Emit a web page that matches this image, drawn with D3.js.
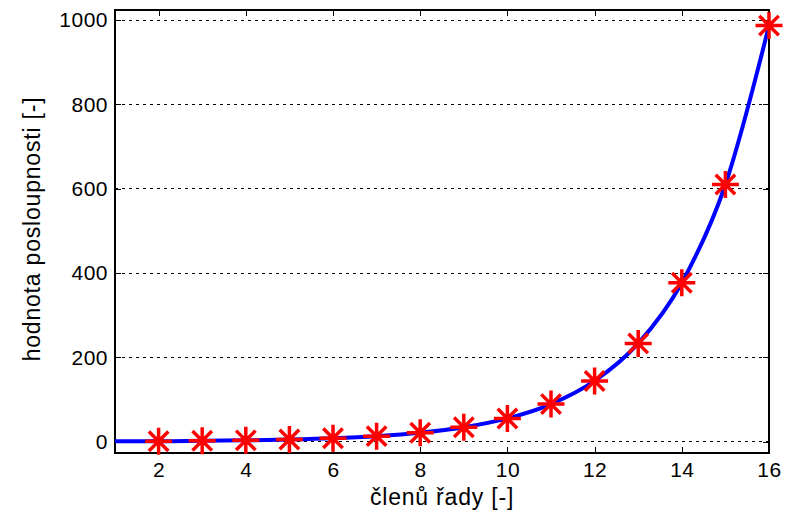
<!DOCTYPE html>
<html>
<head>
<meta charset="utf-8">
<script src="https://cdn.jsdelivr.net/npm/d3@7"></script>
<style>
  body { margin: 0; background: #fff; }
  text { font-family: "Liberation Sans", Arial, sans-serif; fill: #000; }
</style>
</head>
<body>
<svg width="787" height="518"></svg>
<script>
// clen rady (n) a hodnota posloupnosti
var terms = [1, 2, 3, 4, 5, 6, 7, 8, 9, 10, 11, 12, 13, 14, 15, 16];
var values = [1, 1, 2, 3, 5, 8, 13, 21, 34, 55, 89, 144, 233, 377, 610, 987];
var xTicks = [2, 4, 6, 8, 10, 12, 14, 16];
var yTicks = [0, 200, 400, 600, 800, 1000];

var svg = d3.select("svg"),
    margin = {top: 10, right: 18, bottom: 65, left: 115},
    width = svg.attr("width") - margin.left - margin.right,
    height = svg.attr("height") - margin.top - margin.bottom,
    g = svg.append("g").attr("transform", "translate(" + margin.left + "," + margin.top + ")");

var x = d3.scaleLinear().domain([1, 16]).range([0, width]),
    y = d3.scaleLinear().domain([-27, 1024]).range([height, 0]);

var data = terms.map(function(t, i) { return {n: t, v: values[i]}; });

// grid
g.selectAll(".grid")
  .data(yTicks)
  .enter().append("line")
    .attr("x1", 0).attr("x2", width)
    .attr("y1", function(d) { return y(d); })
    .attr("y2", function(d) { return y(d); })
    .attr("stroke", "#000")
    .attr("stroke-width", 1)
    .attr("stroke-dasharray", "3,4")
    .attr("shape-rendering", "crispEdges");

// axes - ticks inside, mirrored
function styleAxis(sel) {
  sel.select(".domain").remove();
  sel.selectAll("line").attr("stroke", "#000").attr("shape-rendering", "crispEdges");
  sel.selectAll("text").style("font-size", "21px").style("letter-spacing", "0.5px");
}

g.append("g")
    .attr("transform", "translate(0," + height + ")")
    .call(d3.axisBottom(x).tickValues(xTicks).tickSizeInner(-6).tickPadding(9))
    .call(styleAxis);

g.append("g")
    .call(d3.axisTop(x).tickValues(xTicks).tickSizeInner(-6).tickFormat(""))
    .call(styleAxis);

g.append("g")
    .call(d3.axisLeft(y).tickValues(yTicks).tickSizeInner(-6).tickPadding(7).tickFormat(d3.format("d")))
    .call(styleAxis);

g.append("g")
    .attr("transform", "translate(" + width + ",0)")
    .call(d3.axisRight(y).tickValues(yTicks).tickSizeInner(-6).tickFormat(""))
    .call(styleAxis);

g.append("rect")
    .attr("width", width).attr("height", height)
    .attr("fill", "none").attr("stroke", "#000").attr("stroke-width", 1.2)
    .attr("shape-rendering", "crispEdges");

// line
var line = d3.line()
    .curve(d3.curveMonotoneX)
    .x(function(d) { return x(d.n); })
    .y(function(d) { return y(d.v); });

g.append("path")
    .datum(data)
    .attr("d", line)
    .attr("fill", "none")
    .attr("stroke", "#0000ff")
    .attr("stroke-width", 4);

// asterisk markers
var r = 13.5, rd = r * 0.72;
var star = "M0," + (-r) + "V" + r + "M" + (-r) + ",0H" + r +
    "M" + (-rd) + "," + (-rd) + "L" + rd + "," + rd +
    "M" + (-rd) + "," + rd + "L" + rd + "," + (-rd);

g.selectAll(".marker")
  .data(data.slice(1))
  .enter().append("path")
    .attr("class", "marker")
    .attr("transform", function(d) { return "translate(" + x(d.n) + "," + y(d.v) + ")"; })
    .attr("d", star)
    .attr("fill", "none")
    .attr("stroke", "#ff0000")
    .attr("stroke-width", 3.5);

// labels
svg.append("text")
    .attr("x", margin.left + width / 2)
    .attr("y", 505)
    .attr("text-anchor", "middle")
    .style("font-size", "23px")
    .style("letter-spacing", "0.8px")
    .text("členů řady [-]");

svg.append("text")
    .attr("transform", "translate(40,229) rotate(-90)")
    .attr("text-anchor", "middle")
    .style("font-size", "23px")
    .style("letter-spacing", "0.8px")
    .text("hodnota posloupnosti [-]");
</script>
</body>
</html>
